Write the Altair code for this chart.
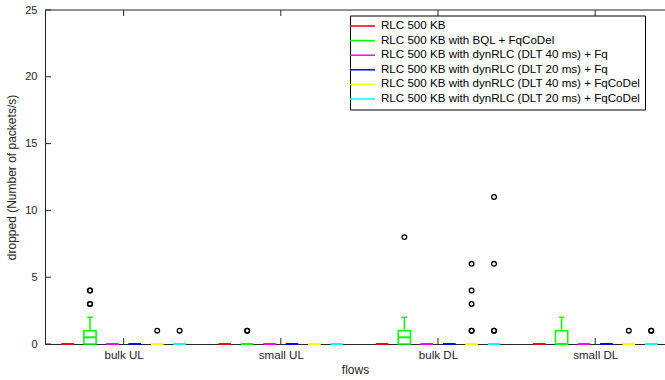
import altair as alt
import pandas as pd

# Flow categories and the six queueing configurations
groups = ["bulk UL", "small UL", "bulk DL", "small DL"]
series = [
    "RLC 500 KB",
    "RLC 500 KB with BQL + FqCoDel",
    "RLC 500 KB with dynRLC (DLT 40 ms) + Fq",
    "RLC 500 KB with dynRLC (DLT 20 ms) + Fq",
    "RLC 500 KB with dynRLC (DLT 40 ms) + FqCoDel",
    "RLC 500 KB with dynRLC (DLT 20 ms) + FqCoDel",
]
colors = ["#ff0000", "#00ff00", "#ff00ff", "#0000ff", "#ffff00", "#00ffff"]

# Box statistics per flow (rows) and configuration (columns)
q1 = [
    [0, 0, 0, 0, 0, 0],
    [0, 0, 0, 0, 0, 0],
    [0, 0, 0, 0, 0, 0],
    [0, 0, 0, 0, 0, 0],
]
median = [
    [0, 0.5, 0, 0, 0, 0],
    [0, 0, 0, 0, 0, 0],
    [0, 0.5, 0, 0, 0, 0],
    [0, 0, 0, 0, 0, 0],
]
q3 = [
    [0, 1, 0, 0, 0, 0],
    [0, 0, 0, 0, 0, 0],
    [0, 1, 0, 0, 0, 0],
    [0, 1, 0, 0, 0, 0],
]
whisker_hi = [
    [0, 2, 0, 0, 0, 0],
    [0, 0, 0, 0, 0, 0],
    [0, 2, 0, 0, 0, 0],
    [0, 2, 0, 0, 0, 0],
]
outliers = [
    [[], [3, 3, 4, 4], [], [], [1], [1]],
    [[], [1, 1], [], [], [], []],
    [[], [8], [], [], [1, 1, 3, 4, 6], [1, 1, 6, 11]],
    [[], [], [], [], [1], [1, 1]],
]

y_ticks = [0, 5, 10, 15, 20, 25]

# Layout of boxes inside each group (in x-axis units, one unit per flow)
STEP = 0.1425
HALF_BOX = 0.039
HALF_CAP = 0.018
W, H = 620, 334
X_MIN = -0.5
X_MAX = X_MIN + W / 157.2

box_rows, out_rows = [], []
for g, gname in enumerate(groups):
    for s, sname in enumerate(series):
        xc = g + (s - 2.5) * STEP
        box_rows.append({
            "series": sname, "xc": xc,
            "xl": xc - HALF_BOX, "xr": xc + HALF_BOX,
            "cl": xc - HALF_CAP, "cr": xc + HALF_CAP,
            "q1": q1[g][s], "median": median[g][s], "q3": q3[g][s],
            "hi": whisker_hi[g][s],
        })
        for v in outliers[g][s]:
            out_rows.append({"xc": xc, "v": v})

boxes = pd.DataFrame(box_rows)
outs = pd.DataFrame(out_rows)
whisk = boxes[boxes["hi"] > boxes["q3"]]

xscale = alt.Scale(domain=[X_MIN, X_MAX], nice=False, zero=False)
yscale = alt.Scale(domain=[0, 25], nice=False)
color = alt.Color(
    "series:N",
    scale=alt.Scale(domain=series, range=colors),
    legend=alt.Legend(
        title=None, orient="none", legendX=305, legendY=5.5,
        symbolType="M-2.5,0H2.5", symbolSize=100, symbolStrokeWidth=1.5,
        symbolOffset=2,
        labelFontSize=11.6, labelColor="#000000", labelFont="Liberation Sans",
        labelOffset=12.5, rowPadding=2.6, padding=4.5,
        strokeColor="#000000", fillColor="#ffffff", labelLimit=400,
    ),
)

label_expr = "{0: 'bulk UL', 1: 'small UL', 2: 'bulk DL', 3: 'small DL'}[datum.value]"

base = alt.Chart(boxes)

rect = base.mark_rect(filled=False, strokeWidth=1.5).encode(
    x=alt.X("xl:Q", scale=xscale, title="flows",
            axis=alt.Axis(values=[0, 1, 2, 3], labelExpr=label_expr, ticks=False,
                          grid=False, labelPadding=5, titlePadding=4,
                          labelFontSize=11.6)),
    x2="xr:Q",
    y=alt.Y("q1:Q", scale=yscale, title="dropped (Number of packets/s)",
            axis=alt.Axis(values=y_ticks, ticks=False, grid=False,
                          labelPadding=8, titlePadding=6, labelFontSize=11)),
    y2="q3:Q",
    color=color,
)

med = base.mark_rule(strokeWidth=2).encode(
    x=alt.X("xl:Q", scale=xscale), x2="xr:Q",
    y=alt.Y("median:Q", scale=yscale), color=color,
)

wline = alt.Chart(whisk).mark_rule(strokeWidth=1.5).encode(
    x=alt.X("xc:Q", scale=xscale),
    y=alt.Y("q3:Q", scale=yscale), y2="hi:Q", color=color,
)

wcap = alt.Chart(whisk).mark_rule(strokeWidth=1.5).encode(
    x=alt.X("cl:Q", scale=xscale), x2="cr:Q",
    y=alt.Y("hi:Q", scale=yscale), color=color,
)

pts = alt.Chart(outs).mark_point(
    shape="circle", filled=False, color="#000000", size=22, strokeWidth=1.3,
    opacity=1
).encode(
    x=alt.X("xc:Q", scale=xscale),
    y=alt.Y("v:Q", scale=yscale),
)

# Frame top edge and inward-pointing tick marks
axis_col = "#262626"
top_edge = alt.Chart(pd.DataFrame({"v": [25]})).mark_rule(color=axis_col, strokeWidth=1).encode(
    y=alt.Y("v:Q", scale=yscale), x=alt.value(0), x2=alt.value(W),
)
ytick = alt.Chart(pd.DataFrame({"v": y_ticks})).mark_rule(color=axis_col, strokeWidth=1).encode(
    y=alt.Y("v:Q", scale=yscale), x=alt.value(0), x2=alt.value(6),
)
xt = pd.DataFrame({"g": [0, 1, 2, 3]})
xtick_bottom = alt.Chart(xt).mark_rule(color=axis_col, strokeWidth=1).encode(
    x=alt.X("g:Q", scale=xscale), y=alt.value(H), y2=alt.value(H - 6),
)
xtick_top = alt.Chart(xt).mark_rule(color=axis_col, strokeWidth=1).encode(
    x=alt.X("g:Q", scale=xscale), y=alt.value(0), y2=alt.value(6),
)

chart = alt.layer(
    top_edge, ytick, xtick_bottom, xtick_top, rect, med, wline, wcap, pts
).properties(
    width=W, height=H,
    background="#ffffff",
    autosize=alt.AutoSizeParams(type="none"),
    padding={"left": 45, "top": 10, "right": 0, "bottom": 36},
).configure_view(
    stroke=None
).configure_axis(
    labelFont="Liberation Sans", titleFont="Liberation Sans",
    labelFontSize=11, titleFontSize=12, labelColor=axis_col, titleColor=axis_col,
    titleFontWeight="normal", domainColor=axis_col, domainWidth=1,
)

chart.save("out.html", embed_options={"renderer": "svg", "actions": False})
